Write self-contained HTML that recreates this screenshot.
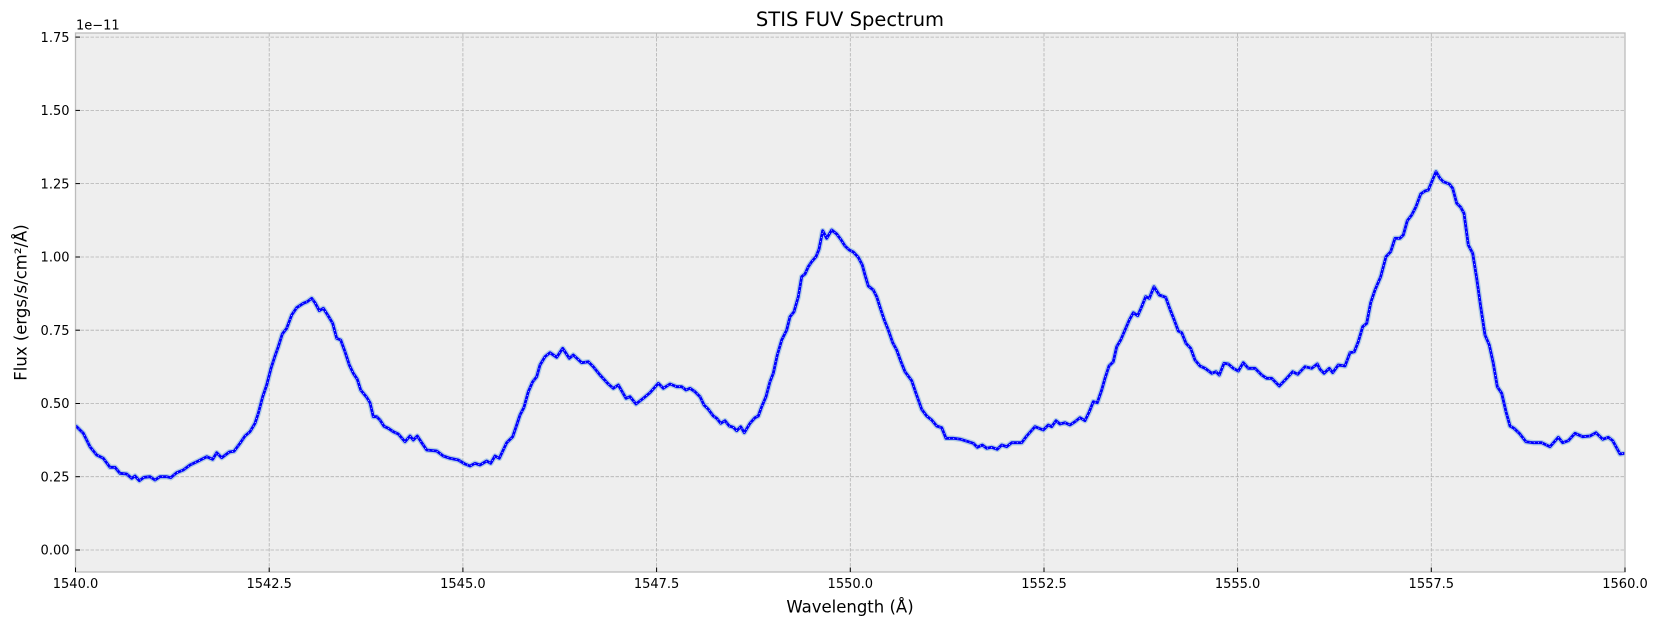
<!DOCTYPE html>
<html>
<head>
<meta charset="utf-8">
<style>
  html,body{margin:0;padding:0;background:#ffffff;}
  svg{display:block;}
  text{font-family:"DejaVu Sans","Liberation Sans",sans-serif;fill:#000;}
</style>
</head>
<body>
<svg width="1659" height="626" viewBox="0 0 1659 626" xmlns="http://www.w3.org/2000/svg" xmlns:xlink="http://www.w3.org/1999/xlink">
  <defs>
    <clipPath id="pa"><rect x="75.5" y="33" width="1549.5" height="539"/></clipPath>
    <path id="spec" d="M75.5,426 L76.7,426.7 L83.3,433.3 L90,446.7 L96.7,455 L103.3,458.3 L110,467.3 L115,467.3 L120,473.3 L126.7,474 L131.7,478.3 L135,476 L139.3,480.7 L144,477.3 L150,476.7 L155,480 L160,476.7 L166.7,476.7 L170.7,477.7 L176.7,472.7 L183.3,470 L190,465 L198.3,461 L206.7,456.7 L212.7,459.3 L216.7,452.7 L221.7,457.7 L229.3,452 L234,451.3 L240,443.3 L245,436 L250,431.7 L255,423.3 L258.3,413.3 L262.7,396.7 L266.7,385 L271,368.3 L275,356 L278.3,346.7 L282.3,334 L286.7,328.3 L291.7,315 L296.7,307.7 L303.3,303.3 L307.3,301.7 L311.7,298.3 L315,302.7 L319.3,310.7 L323.3,308.3 L328.3,316 L332.7,323.3 L336.7,338.3 L340.7,340 L345,351.7 L349.3,365 L353.3,373.3 L357.3,379.3 L360.7,390 L366.7,397.3 L370,402.7 L373.3,416.7 L376.7,416.7 L380,420 L384,426.3 L388.3,428.3 L393.3,431.7 L398.3,434 L405,441.7 L410,436 L413.3,440 L417.3,436 L421.7,442.7 L426.7,450 L436.7,451 L443.3,456 L450,458.3 L458.3,460 L465,464 L470,466 L475,463.3 L480,465 L486.7,461 L490.7,463.3 L495,456 L499.3,458.3 L506.7,442.7 L512.7,436.7 L516.7,425 L520,415 L524,407.3 L528.3,391.7 L532.7,381.7 L536.7,376.7 L540,365 L545,356.7 L550,352.7 L556.7,357.3 L562.7,348.3 L569.3,358.3 L573.3,355 L581.7,362.7 L588.3,361.7 L593.3,366.7 L600,375 L608.3,384 L613.3,388.3 L618.3,385 L626,398.3 L630,396.7 L636,404 L643.3,398.3 L650,392.7 L658.3,383.3 L663.3,388.3 L670,384 L676.7,386.7 L681.7,386.7 L686,390 L690,388.3 L695,391.7 L700,396.7 L704,405 L708.3,409.3 L713.3,416 L716.7,418.3 L720.7,423.3 L725,420.7 L729.3,426 L733.3,427.3 L736.7,430.7 L740.7,426.7 L744.3,432.7 L750,423.3 L755,417.7 L758.3,416 L761.7,406.7 L766,396.7 L770,381.7 L773.3,373.3 L777.3,355 L781.7,340 L786.7,330 L790,316.7 L794,311.7 L798.3,296.7 L801.7,276.7 L805,274 L808.3,266.7 L811.7,261.7 L816,256.7 L819,249.3 L822.7,230.7 L826.7,238.3 L831.7,230 L836.7,234 L840.7,239.3 L845,246 L849.3,250 L853.3,252 L858.3,257.3 L862.3,265 L865,275 L868.3,286 L873.3,290 L876.7,296.7 L880.7,309.3 L884.3,320 L888.3,330 L892.7,342.7 L896.7,350 L900.7,361 L905,371.7 L911.7,380.7 L916,393.3 L921.7,409.3 L926.7,416 L931.7,420 L936.7,426 L941.7,427.7 L946,438.3 L953.3,438.3 L960.7,439.3 L968.3,441.7 L973.3,443.3 L977.3,447.3 L982.3,445 L986.7,448.3 L991.7,447.3 L997.3,449.3 L1001.7,445 L1006.7,446.7 L1011.7,442.7 L1021.7,442.7 L1026.7,436 L1035,426.7 L1043.3,430 L1048.3,425 L1051.7,426.7 L1056,420.7 L1060,424 L1065,422.7 L1070,425 L1075,421.7 L1080,417.7 L1085,420.7 L1089.3,411.7 L1093.3,401.7 L1097.3,402.7 L1101.7,390 L1105,378.3 L1109,366 L1113.3,361.7 L1116.7,346.7 L1120.7,340 L1125,330 L1129.3,320 L1133.3,312.7 L1137.7,315.7 L1141.7,306.7 L1145.7,296.7 L1149.3,298.3 L1154,286.7 L1159.3,295 L1165.7,297.3 L1170,309.3 L1174,319.3 L1178.3,331 L1181.7,332.7 L1186,343.3 L1190.7,348.3 L1195,360 L1200,366 L1205,368.3 L1211.7,373.3 L1216,371.7 L1219.3,375 L1224,363.3 L1228.3,364 L1233.3,368.3 L1238.3,371 L1243.3,362.7 L1248.3,368.3 L1255,368.3 L1261.7,375 L1266.7,378.3 L1271.7,378.3 L1279.3,386 L1286.7,378.3 L1292.7,371.7 L1297.7,374.3 L1305,366.7 L1311.7,368.3 L1317.3,364 L1320,369.3 L1324,373.3 L1329.3,368.3 L1332.7,372.7 L1338.3,365 L1345,366 L1350,352.7 L1354.3,351.7 L1358.3,341.7 L1362.7,326.7 L1366.7,323.3 L1370.7,302.7 L1375,290 L1380.7,276.7 L1386,256.7 L1390.7,251.7 L1395,238.3 L1400,238.3 L1403.3,235 L1407.3,220.7 L1411.7,215 L1416,206.7 L1420.7,194 L1425,191 L1428.3,190 L1436,171.7 L1440,178.3 L1443.3,181.7 L1449.3,184 L1452.7,188.3 L1456.7,203.3 L1460.7,207.3 L1464,213.3 L1468.3,245 L1472.7,253.3 L1476.7,278.3 L1480.7,306.7 L1485,335 L1489.3,345 L1493.3,363.3 L1497.3,386.7 L1501.7,393.3 L1506,411.7 L1510,426 L1514,428.3 L1519.3,433.3 L1526,441.7 L1533.3,442.7 L1541.7,442.7 L1550,446.7 L1558.3,437.3 L1562.7,442.7 L1568.3,440.7 L1575,433.3 L1582.7,436.7 L1590,436 L1596,432.7 L1602.7,439.3 L1608.3,437.3 L1612.7,440.7 L1620,454 L1625,453.3"/>
  </defs>
  <rect x="0" y="0" width="1659" height="626" fill="#ffffff"/>
  <rect x="75.5" y="33" width="1549.5" height="539" fill="#eeeeee"/>

  <!-- grid -->
  <g stroke="#b2b2b2" stroke-width="0.8" stroke-dasharray="3.5 1.5" fill="none">
    <line x1="269.2" y1="33" x2="269.2" y2="572"/>
    <line x1="462.9" y1="33" x2="462.9" y2="572"/>
    <line x1="656.6" y1="33" x2="656.6" y2="572"/>
    <line x1="850.3" y1="33" x2="850.3" y2="572"/>
    <line x1="1044" y1="33" x2="1044" y2="572"/>
    <line x1="1237.6" y1="33" x2="1237.6" y2="572"/>
    <line x1="1431.3" y1="33" x2="1431.3" y2="572"/>
    <line x1="75.5" y1="550" x2="1625" y2="550"/>
    <line x1="75.5" y1="476.7" x2="1625" y2="476.7"/>
    <line x1="75.5" y1="403.5" x2="1625" y2="403.5"/>
    <line x1="75.5" y1="330.2" x2="1625" y2="330.2"/>
    <line x1="75.5" y1="257" x2="1625" y2="257"/>
    <line x1="75.5" y1="183.6" x2="1625" y2="183.6"/>
    <line x1="75.5" y1="110.4" x2="1625" y2="110.4"/>
    <line x1="75.5" y1="37.1" x2="1625" y2="37.1"/>
  </g>

  <g clip-path="url(#pa)" fill="none" stroke-linejoin="round" stroke-linecap="round">
    <use href="#spec" xlink:href="#spec" stroke="#7fb2da" stroke-opacity="0.55" stroke-width="5.5"/>
    <use href="#spec" xlink:href="#spec" stroke="#0000ff" stroke-width="2.8"/>
    <use href="#spec" xlink:href="#spec" stroke="#ffffff" stroke-opacity="0.9" stroke-width="0.9" stroke-dasharray="0.8 3.4" stroke-linecap="butt"/>
  </g>

  <!-- spines -->
  <rect x="75.5" y="33" width="1549.5" height="539" fill="none" stroke="#bcbcbc" stroke-width="1.3"/>

  <!-- ticks (inward) -->
  <g stroke="#000" stroke-width="1">
    <line x1="75.5" y1="572" x2="75.5" y2="567.5"/>
    <line x1="269.2" y1="572" x2="269.2" y2="567.5"/>
    <line x1="462.9" y1="572" x2="462.9" y2="567.5"/>
    <line x1="656.6" y1="572" x2="656.6" y2="567.5"/>
    <line x1="850.3" y1="572" x2="850.3" y2="567.5"/>
    <line x1="1044" y1="572" x2="1044" y2="567.5"/>
    <line x1="1237.6" y1="572" x2="1237.6" y2="567.5"/>
    <line x1="1431.3" y1="572" x2="1431.3" y2="567.5"/>
    <line x1="1625" y1="572" x2="1625" y2="567.5"/>
    <line x1="75.5" y1="550" x2="80" y2="550"/>
    <line x1="75.5" y1="476.7" x2="80" y2="476.7"/>
    <line x1="75.5" y1="403.5" x2="80" y2="403.5"/>
    <line x1="75.5" y1="330.2" x2="80" y2="330.2"/>
    <line x1="75.5" y1="257" x2="80" y2="257"/>
    <line x1="75.5" y1="183.6" x2="80" y2="183.6"/>
    <line x1="75.5" y1="110.4" x2="80" y2="110.4"/>
    <line x1="75.5" y1="37.1" x2="80" y2="37.1"/>
  </g>

  <!-- x tick labels -->
  <g font-size="13" text-anchor="middle">
    <text x="75.5" y="588">1540.0</text>
    <text x="269.2" y="588">1542.5</text>
    <text x="462.9" y="588">1545.0</text>
    <text x="656.6" y="588">1547.5</text>
    <text x="850.3" y="588">1550.0</text>
    <text x="1044" y="588">1552.5</text>
    <text x="1237.6" y="588">1555.0</text>
    <text x="1431.3" y="588">1557.5</text>
    <text x="1625" y="588">1560.0</text>
  </g>

  <!-- y tick labels -->
  <g font-size="13" text-anchor="end">
    <text x="69.5" y="554.7">0.00</text>
    <text x="69.5" y="481.4">0.25</text>
    <text x="69.5" y="408.2">0.50</text>
    <text x="69.5" y="334.9">0.75</text>
    <text x="69.5" y="261.7">1.00</text>
    <text x="69.5" y="188.3">1.25</text>
    <text x="69.5" y="115.1">1.50</text>
    <text x="69.5" y="41.8">1.75</text>
  </g>

  <text x="76" y="29.3" font-size="13">1e−11</text>

  <text x="850" y="26" font-size="19.5" text-anchor="middle">STIS FUV Spectrum</text>
  <text x="850" y="612.5" font-size="16.5" text-anchor="middle">Wavelength (Å)</text>
  <text transform="translate(26.5,302.5) rotate(-90)" font-size="16.5" text-anchor="middle">Flux (ergs/s/cm²/Å)</text>
</svg>
</body>
</html>
